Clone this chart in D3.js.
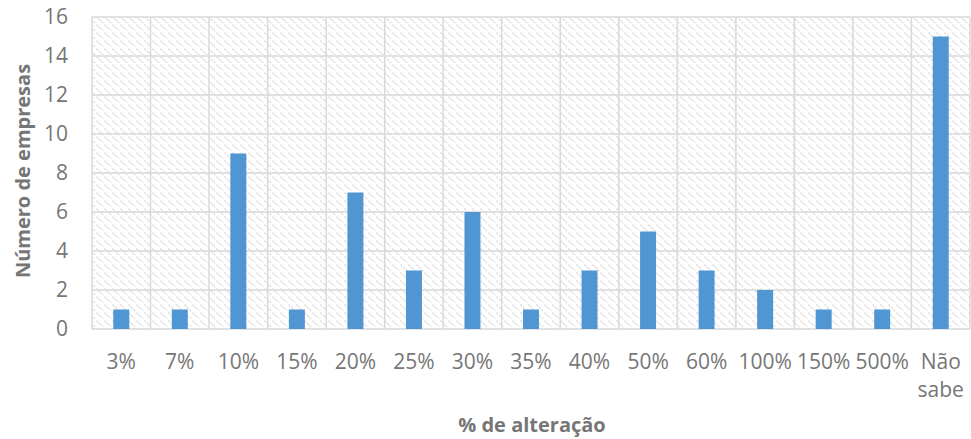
<!DOCTYPE html>
<html>
<head>
<meta charset="utf-8">
<script src="https://cdn.jsdelivr.net/npm/d3@7"></script>
<style>
  body { margin: 0; background: #fff; }
  svg { display: block; font-family: "Open Sans", sans-serif; }
</style>
</head>
<body>
<svg id="chart"></svg>
<script>
// categories and values
const categories = ["3%", "7%", "10%", "15%", "20%", "25%", "30%", "35%", "40%", "50%", "60%", "100%", "150%", "500%", "Não sabe"];
const empresas = [1, 1, 9, 1, 7, 3, 6, 1, 3, 5, 3, 2, 1, 1, 15];
const yTicks = [0, 2, 4, 6, 8, 10, 12, 14, 16];

const width = 971, height = 439;
const plot = { left: 92, right: 970, top: 17, bottom: 329 };
const textColor = "#767676";

const svg = d3.select("#chart")
  .attr("width", width)
  .attr("height", height);

// hatch background like the excel pattern fill
const defs = svg.append("defs");
const pat = defs.append("pattern")
  .attr("id", "hatch")
  .attr("patternUnits", "userSpaceOnUse")
  .attr("width", 8)
  .attr("height", 8);
pat.append("path")
  .attr("d", "M-2,-2 L10,10 M-2,6 L2,10 M6,-2 L10,2")
  .attr("stroke", "#d9d9d9")
  .attr("stroke-width", 1.2)
  .attr("stroke-dasharray", "2.5,1");

const x = d3.scaleBand()
  .domain(categories)
  .range([plot.left, plot.right])
  .paddingInner(0.727)
  .paddingOuter(0.3635);

const y = d3.scaleLinear()
  .domain([0, 16])
  .range([plot.bottom, plot.top]);

svg.append("rect")
  .attr("x", plot.left)
  .attr("y", plot.top)
  .attr("width", plot.right - plot.left)
  .attr("height", plot.bottom - plot.top)
  .attr("fill", "url(#hatch)");

// gridlines
const band = d3.scaleBand().domain(categories).range([plot.left, plot.right]);
const vLines = categories.map(c => band(c)).concat([plot.right]);
svg.append("g")
  .selectAll("line")
  .data(vLines)
  .join("line")
  .attr("x1", d => d).attr("x2", d => d)
  .attr("y1", plot.top).attr("y2", plot.bottom)
  .attr("stroke", "#d9d9d9")
  .attr("stroke-width", 1.5);

svg.append("g")
  .selectAll("line")
  .data(yTicks)
  .join("line")
  .attr("x1", plot.left).attr("x2", plot.right)
  .attr("y1", d => y(d)).attr("y2", d => y(d))
  .attr("stroke", "#d9d9d9")
  .attr("stroke-width", 1.5);

// bars
svg.append("g")
  .selectAll("rect")
  .data(empresas)
  .join("rect")
  .attr("x", (d, i) => x(categories[i]))
  .attr("y", d => y(d))
  .attr("width", x.bandwidth())
  .attr("height", d => y(0) - y(d))
  .attr("fill", "#5096d2");

// y axis
const yAxis = svg.append("g")
  .attr("transform", `translate(${plot.left},0)`)
  .call(d3.axisLeft(y).tickValues(yTicks).tickSize(0).tickPadding(24));
yAxis.select(".domain").remove();
yAxis.selectAll("text")
  .attr("font-size", 21)
  .attr("font-family", "'Open Sans', sans-serif")
  .attr("fill", textColor);

// x axis labels (Não sabe wraps on two lines)
const xAxis = svg.append("g")
  .attr("transform", `translate(0,${plot.bottom})`)
  .call(d3.axisBottom(band).tickSize(0).tickPadding(0).tickFormat(""));
xAxis.select(".domain").remove();
xAxis.selectAll(".tick").each(function (d) {
  const t = d3.select(this).append("text")
    .attr("fill", textColor)
    .attr("font-size", 21)
    .attr("font-family", "'Open Sans', sans-serif")
    .attr("text-anchor", "middle");
  d.split(" ").forEach((w, i) => {
    t.append("tspan").attr("x", 0).attr("y", 40 + i * 28).text(w);
  });
});

// axis titles
svg.append("text")
  .attr("x", 532)
  .attr("y", 432)
  .attr("text-anchor", "middle")
  .attr("font-size", 20)
  .attr("font-weight", "bold")
  .attr("fill", textColor)
  .text("% de alteração");

svg.append("text")
  .attr("transform", `translate(30,171) rotate(-90)`)
  .attr("text-anchor", "middle")
  .attr("font-size", 20)
  .attr("font-weight", "bold")
  .attr("fill", textColor)
  .text("Número de empresas");
</script>
</body>
</html>
